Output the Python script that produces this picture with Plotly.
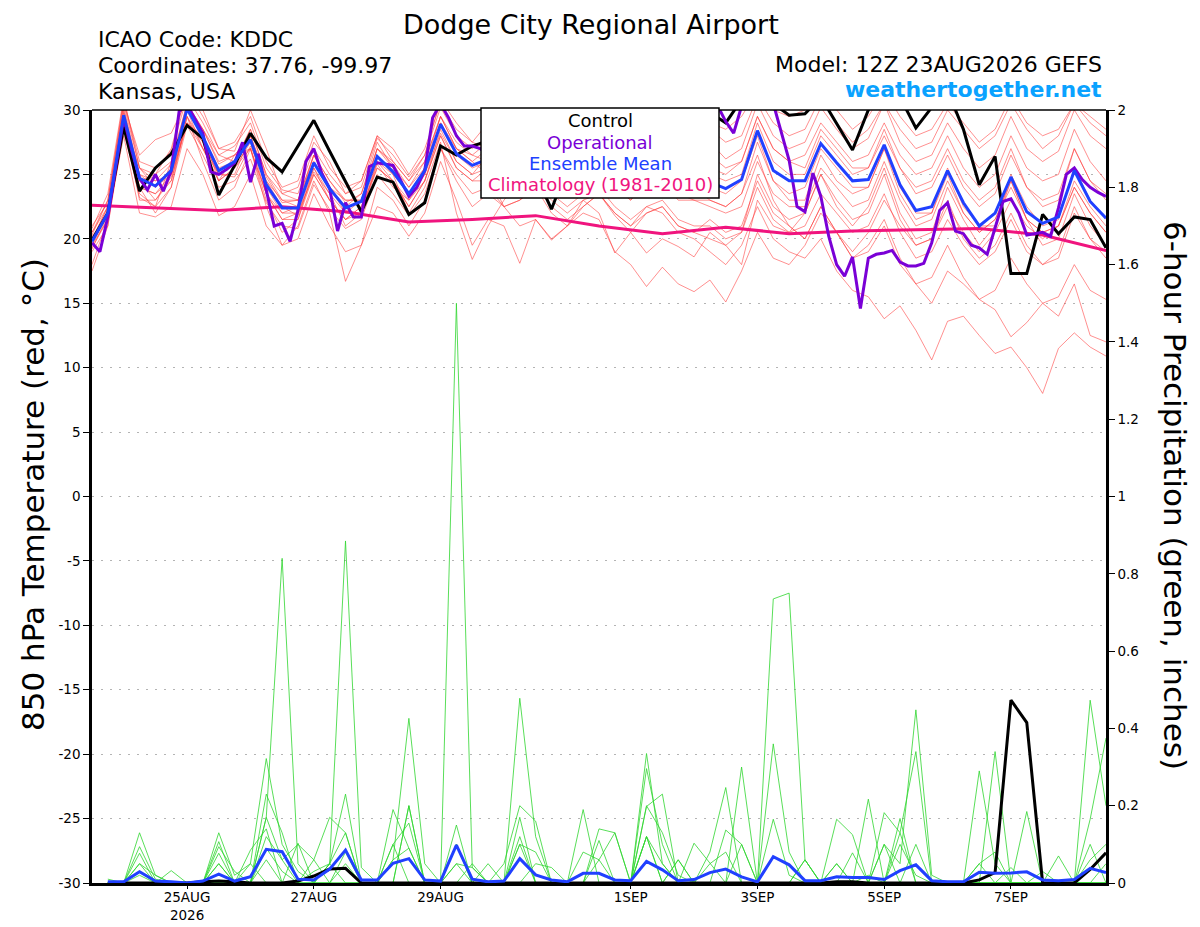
import pandas as pd
import plotly.graph_objects as go

# GEFS run 12Z 23AUG2026, 6-hourly steps out to 384 h (operational 3-hourly)
t6 = pd.date_range('2026-08-23 12:00', periods=65, freq='6h')
t3 = pd.date_range('2026-08-23 12:00', periods=129, freq='3h')
t24 = pd.date_range('2026-08-23 12:00', periods=17, freq='1D')

tick_dates = ['2026-08-25', '2026-08-27', '2026-08-29', '2026-09-01',
              '2026-09-03', '2026-09-05', '2026-09-07']
tick_text = ['25AUG<br>2026', '27AUG', '29AUG', '1SEP', '3SEP', '5SEP', '7SEP']
temp_ticks = [-30, -25, -20, -15, -10, -5, 0, 5, 10, 15, 20, 25, 30]
temp_tick_text = ['-30', '-25', '-20', '-15', '-10', '-5', '0', '5', '10', '15', '20', '25', '30']

# 850 hPa temperature (C) - ensemble members, rows of 13 steps
temp_m01 = [20.5, 23.0, 30.8, 26.0, 25.5, 26.8, 31.0, 29.0, 26.5, 27.2, 29.0, 25.5, 23.8,
            23.5, 27.0, 25.0, 23.5, 24.0, 27.8, 26.5, 24.8, 26.5, 30.2, 28.0, 27.0, 28.0,
            26.5, 27.5, 28.5, 26.8, 26.0, 27.2, 28.5, 27.0, 26.0, 27.8, 28.5, 26.5, 26.8,
            27.5, 26.2, 27.0, 30.5, 28.0, 27.0, 27.5, 30.2, 28.5, 27.0, 27.8, 30.5, 27.5,
            26.0, 26.5, 29.0, 27.0, 25.5, 26.5, 29.5, 27.0, 26.0, 26.8, 30.0, 28.0, 27.0]
temp_m02 = [19.0, 21.0, 28.5, 23.2, 22.5, 24.0, 28.8, 26.5, 24.0, 24.5, 26.2, 22.8, 21.0,
            20.8, 24.2, 22.3, 20.8, 21.5, 25.0, 23.5, 21.8, 23.5, 27.0, 25.0, 23.5, 24.0,
            22.5, 23.0, 24.0, 22.0, 21.0, 22.5, 23.5, 21.8, 20.5, 22.0, 22.5, 21.0, 20.5,
            20.0, 19.5, 20.5, 24.0, 21.5, 20.5, 21.0, 23.5, 22.0, 20.5, 21.0, 23.5, 20.5,
            18.5, 19.0, 21.5, 19.5, 18.0, 19.0, 21.5, 19.0, 18.0, 18.5, 22.0, 20.0, 18.5]
temp_m03 = [20.0, 22.5, 29.0, 24.0, 23.5, 25.0, 29.5, 27.0, 24.5, 25.5, 27.5, 23.5, 21.5,
            22.0, 25.5, 23.0, 21.5, 22.5, 26.0, 24.5, 22.5, 24.5, 28.0, 25.5, 24.5, 25.5,
            24.0, 24.5, 25.0, 23.5, 22.5, 23.5, 24.0, 22.5, 21.5, 22.5, 22.0, 20.5, 20.0,
            19.0, 18.0, 19.5, 22.5, 20.0, 19.0, 18.5, 20.0, 17.5, 16.0, 15.5, 13.8, 14.8,
            12.9, 10.6, 13.6, 14.0, 12.5, 11.1, 11.6, 10.0, 8.0, 11.5, 12.7, 11.6, 10.9]
temp_m04 = [19.2, 21.8, 29.2, 23.0, 23.0, 24.8, 29.0, 27.5, 25.0, 24.8, 27.2, 24.5, 22.5,
            21.8, 25.2, 23.5, 22.0, 22.0, 25.8, 24.0, 23.0, 25.0, 28.2, 26.0, 25.0, 25.5,
            24.5, 25.0, 26.0, 24.0, 23.5, 24.5, 25.5, 24.0, 23.0, 24.5, 25.0, 23.5, 23.0,
            23.0, 22.5, 23.5, 26.5, 23.0, 21.0, 20.0, 22.5, 20.5, 18.5, 19.0, 21.0, 18.0,
            16.5, 15.0, 17.5, 16.5, 15.3, 14.5, 12.4, 13.5, 15.0, 14.0, 16.5, 12.5, 12.0]
temp_m05 = [19.5, 21.5, 29.8, 25.0, 24.5, 25.8, 30.5, 28.5, 25.8, 26.5, 28.0, 24.8, 22.8,
            23.0, 26.5, 24.5, 22.8, 23.5, 27.0, 25.8, 24.0, 26.0, 29.5, 27.0, 26.0, 25.0,
            22.5, 21.0, 21.5, 20.0, 21.0, 22.0, 21.5, 19.0, 18.0, 16.3, 17.8, 16.5, 15.9,
            16.8, 15.1, 17.5, 20.5, 18.5, 18.0, 19.5, 22.0, 20.5, 19.0, 20.5, 23.0, 21.0,
            19.5, 20.0, 22.5, 20.5, 19.0, 20.5, 23.0, 21.0, 20.0, 21.0, 24.0, 22.0, 20.5]
temp_m06 = [20.8, 23.5, 31.0, 25.5, 25.0, 27.0, 31.5, 29.5, 27.0, 27.5, 29.5, 26.0, 24.0,
            24.5, 28.0, 25.5, 24.0, 24.5, 28.0, 27.0, 25.0, 27.0, 30.5, 28.5, 27.5, 29.0,
            27.5, 28.0, 29.5, 28.0, 27.5, 28.5, 30.0, 28.5, 27.5, 29.0, 30.0, 28.5, 28.0,
            29.0, 28.5, 29.5, 31.5, 30.0, 29.5, 30.0, 31.5, 30.0, 28.5, 29.5, 31.5, 29.5,
            28.0, 28.5, 30.5, 29.0, 27.5, 28.5, 31.0, 29.0, 28.0, 28.5, 30.5, 29.5, 28.5]
temp_m07 = [18.0, 21.5, 28.0, 22.0, 21.7, 22.5, 27.0, 25.0, 21.8, 22.5, 25.0, 21.0, 19.5,
            20.0, 23.5, 21.0, 19.0, 19.5, 22.5, 22.0, 20.2, 22.0, 26.0, 23.0, 19.5, 21.5,
            21.0, 18.1, 21.5, 19.9, 21.0, 23.0, 22.0, 18.9, 20.5, 18.9, 20.0, 19.4, 18.6,
            20.5, 19.5, 18.0, 23.0, 21.0, 20.5, 22.0, 25.0, 22.5, 21.0, 22.5, 25.5, 22.0,
            20.0, 20.5, 24.0, 21.5, 19.5, 21.0, 24.5, 21.5, 19.5, 20.0, 23.5, 21.0, 19.5]
temp_m08 = [21.0, 22.8, 30.5, 26.5, 27.7, 28.2, 30.8, 30.0, 27.0, 26.8, 30.0, 27.0, 23.5,
            24.0, 27.5, 26.0, 23.5, 24.5, 28.0, 26.0, 24.5, 26.5, 30.8, 29.0, 27.5, 27.0,
            26.0, 26.5, 27.5, 26.0, 25.5, 26.5, 27.5, 26.5, 25.5, 27.0, 27.5, 26.0, 26.0,
            25.5, 25.0, 26.0, 29.5, 27.0, 26.0, 25.5, 28.5, 27.0, 25.5, 25.5, 28.0, 25.5,
            23.5, 24.0, 26.5, 24.0, 22.5, 23.5, 26.5, 24.0, 22.5, 23.0, 27.0, 24.5, 23.0]
temp_m09 = [19.5, 22.0, 29.0, 24.5, 23.0, 24.5, 29.5, 27.5, 25.0, 26.0, 27.0, 23.5, 21.5,
            21.5, 25.0, 23.0, 21.5, 22.0, 25.5, 24.5, 23.0, 24.5, 28.5, 26.0, 25.0, 26.5,
            25.5, 26.5, 27.0, 25.5, 25.0, 26.0, 27.5, 26.0, 25.0, 26.5, 27.0, 25.0, 24.5,
            24.0, 23.5, 24.5, 28.0, 24.5, 23.5, 24.0, 27.0, 25.5, 24.0, 24.0, 27.0, 23.5,
            21.5, 22.0, 25.0, 22.0, 20.5, 21.5, 24.5, 21.5, 20.5, 21.0, 24.5, 22.5, 21.0]
temp_m10 = [20.2, 21.8, 29.5, 23.5, 22.5, 26.0, 30.0, 27.0, 25.0, 25.0, 28.0, 24.0, 22.0,
            22.5, 26.0, 24.0, 23.0, 23.0, 26.5, 25.0, 23.5, 25.5, 29.0, 26.5, 25.5, 26.0,
            25.0, 25.5, 26.0, 24.5, 24.0, 25.0, 26.0, 24.5, 23.5, 25.0, 25.5, 24.0, 24.0,
            23.0, 22.5, 23.5, 27.5, 24.5, 23.0, 23.0, 26.5, 24.5, 23.5, 24.0, 27.0, 24.0,
            22.0, 22.0, 25.5, 22.5, 21.0, 21.0, 25.0, 22.5, 21.0, 21.5, 25.5, 23.0, 21.5]
temp_m11 = [19.8, 22.5, 29.0, 25.5, 24.5, 25.0, 29.0, 28.0, 24.5, 26.5, 27.0, 23.0, 20.5,
            21.5, 25.5, 23.5, 21.0, 22.0, 26.0, 25.0, 22.0, 24.0, 27.5, 22.0, 18.4, 21.0,
            23.0, 24.5, 25.5, 24.0, 23.5, 24.5, 25.0, 24.0, 23.0, 24.5, 24.5, 23.0, 23.0,
            22.5, 22.0, 22.5, 26.0, 23.5, 22.5, 22.5, 25.5, 24.0, 22.5, 23.0, 26.0, 23.0,
            21.0, 21.5, 24.5, 22.0, 20.5, 21.5, 24.0, 21.5, 20.5, 21.0, 24.0, 22.0, 20.5]
temp_m12 = [20.0, 22.2, 30.2, 25.0, 24.0, 25.5, 30.2, 28.0, 25.5, 26.0, 28.5, 25.0, 23.0,
            22.5, 26.5, 24.0, 22.0, 23.0, 27.0, 25.5, 24.0, 25.5, 29.5, 27.5, 26.5, 27.5,
            26.5, 27.0, 28.0, 27.0, 26.5, 27.5, 29.0, 27.5, 27.0, 28.5, 29.5, 27.5, 27.5,
            28.5, 27.5, 28.0, 31.0, 29.0, 28.0, 28.5, 31.0, 29.0, 27.5, 28.5, 30.5, 28.5,
            27.0, 27.5, 30.0, 28.5, 27.0, 28.0, 30.5, 28.5, 27.0, 28.0, 30.5, 29.0, 28.0]
temp_m13 = [19.3, 21.5, 28.5, 24.0, 23.5, 24.5, 29.0, 27.0, 24.5, 25.5, 27.0, 23.5, 22.0,
            22.0, 25.0, 23.0, 21.5, 22.5, 25.5, 24.5, 22.5, 24.5, 28.0, 25.5, 24.5, 24.5,
            23.5, 24.0, 24.5, 23.0, 22.0, 23.0, 23.5, 22.0, 21.0, 22.0, 22.5, 21.0, 20.5,
            21.5, 20.5, 21.0, 24.5, 22.0, 21.0, 20.0, 22.5, 20.5, 18.5, 19.5, 21.5, 18.5,
            16.5, 17.0, 19.5, 17.0, 15.3, 16.0, 18.5, 16.5, 15.0, 15.5, 18.0, 16.0, 15.3]
temp_m14 = [20.5, 22.5, 30.0, 24.5, 25.0, 26.0, 30.5, 28.5, 26.0, 26.5, 28.0, 24.5, 23.0,
            23.0, 26.5, 24.5, 23.0, 23.0, 27.0, 26.0, 24.5, 26.0, 29.5, 27.0, 26.5, 26.0,
            25.0, 26.0, 27.0, 25.5, 25.0, 25.5, 26.5, 25.5, 24.5, 26.0, 26.5, 25.0, 24.5,
            25.0, 24.5, 25.0, 29.0, 26.0, 25.0, 25.0, 28.0, 26.5, 25.0, 25.5, 28.5, 25.5,
            24.0, 24.5, 27.0, 24.5, 23.0, 24.0, 27.0, 24.0, 23.0, 23.5, 27.0, 24.5, 23.5]
temp_m15 = [17.5, 21.0, 29.0, 24.0, 22.0, 24.0, 29.5, 26.0, 23.0, 24.0, 27.0, 22.5, 19.5,
            21.0, 24.5, 22.0, 16.7, 19.5, 24.0, 23.0, 21.0, 23.0, 27.0, 24.5, 22.5, 23.5,
            22.5, 23.0, 24.0, 22.5, 21.5, 22.5, 23.5, 22.0, 21.0, 22.5, 23.0, 21.5, 21.0,
            21.0, 20.0, 20.5, 25.0, 22.5, 21.5, 22.0, 25.0, 23.0, 21.5, 22.0, 25.0, 21.5,
            19.5, 20.0, 23.0, 20.0, 18.5, 19.5, 22.0, 19.5, 18.0, 19.0, 22.5, 20.0, 19.0]
temp_m16 = [20.3, 23.0, 30.5, 25.5, 24.0, 25.0, 30.0, 28.5, 26.5, 26.0, 28.5, 25.0, 23.5,
            23.0, 26.0, 24.0, 22.5, 23.5, 27.5, 25.5, 23.5, 25.0, 29.0, 27.0, 26.0, 27.0,
            26.0, 26.5, 27.5, 26.5, 26.0, 27.0, 28.0, 26.5, 25.5, 27.0, 27.5, 26.0, 25.5,
            26.5, 25.5, 26.0, 29.5, 27.0, 26.0, 26.5, 29.0, 27.5, 26.0, 26.5, 29.0, 26.5,
            25.0, 25.5, 28.0, 25.5, 24.0, 25.0, 28.0, 25.5, 24.5, 25.0, 28.5, 26.0, 24.5]

temp_control = [19.9, 22.0, 28.7, 23.7, 25.5, 26.6, 28.8, 27.8, 23.4, 25.7, 28.2, 26.3, 25.2,
                27.2, 29.2, 26.8, 24.5, 22.1, 24.8, 24.4, 21.9, 22.8, 27.2, 26.5, 27.2, 27.6,
                26.5, 25.8, 25.0, 22.3, 25.5, 26.8, 27.5, 26.0, 27.2, 28.4, 26.9, 28.0, 28.5,
                29.8, 29.0, 30.8, 31.5, 30.5, 29.6, 29.7, 31.0, 29.0, 26.9, 30.0, 31.5, 31.0,
                28.6, 30.2, 31.5, 28.5, 24.2, 26.4, 17.3, 17.3, 21.9, 20.4, 21.7, 21.5, 19.3]
temp_mean = [19.8, 22.0, 29.6, 24.7, 24.1, 25.3, 30.1, 27.9, 25.3, 26.0, 27.7, 24.2, 22.4,
             22.4, 25.9, 23.9, 22.4, 22.9, 26.4, 25.2, 23.5, 25.3, 28.9, 26.6, 25.7, 26.2,
             25.0, 25.8, 26.5, 25.0, 24.6, 25.5, 26.3, 25.0, 24.3, 25.6, 26.0, 24.8, 24.6,
             24.4, 23.9, 24.6, 28.4, 25.3, 24.5, 24.5, 27.4, 25.9, 24.5, 24.6, 27.3, 24.2,
             22.2, 22.5, 25.3, 22.8, 21.0, 22.0, 24.8, 22.1, 21.2, 21.7, 25.3, 22.9, 21.6]
# operational, 3-hourly (rows of 16)
temp_oper = [19.7, 19.0, 21.7, 25.5, 29.4, 26.9, 24.7, 23.8, 25.0, 23.7, 25.3, 29.9, 30.4, 29.3, 28.2, 25.2,
             25.0, 25.4, 25.9, 27.5, 24.4, 26.6, 23.8, 21.0, 21.2, 19.8, 22.2, 26.0, 27.0, 25.1, 23.9, 20.6,
             22.8, 21.7, 21.7, 25.6, 25.9, 25.8, 25.7, 24.5, 23.3, 24.0, 25.3, 29.4, 30.5, 29.4, 28.0, 27.2,
             27.2, 27.0, 26.5, 27.5, 26.8, 25.9, 26.5, 27.8, 28.4, 27.0, 26.2, 25.8, 26.5, 27.2, 26.0, 25.4,
             26.0, 27.0, 28.0, 27.3, 26.5, 25.5, 26.2, 27.5, 28.3, 27.5, 26.8, 27.4, 28.5, 29.2, 28.8, 30.3,
             29.1, 28.2, 30.3, 31.0, 31.5, 31.0, 30.5, 28.3, 26.1, 22.5, 22.1, 25.1, 23.3, 20.2, 18.0, 17.1,
             18.6, 14.6, 18.5, 18.8, 18.9, 19.1, 18.2, 17.9, 17.9, 18.1, 19.7, 22.2, 22.8, 20.6, 20.4, 19.5,
             19.3, 18.8, 20.8, 22.9, 23.1, 22.0, 20.3, 20.4, 20.5, 20.2, 22.4, 25.0, 25.5, 24.6, 24.0, 23.6,
             23.3]
# climatology 1981-2010, daily
temp_clim = [22.6, 22.4, 22.2, 22.5, 22.1, 21.3, 21.5, 21.8, 21.0,
             20.4, 20.9, 20.4, 20.6, 20.7, 20.8, 20.3, 19.1]

# 6-hour precipitation (inches); first step has no accumulation
prcp_g01 = [None, 0, 0, 0.13, 0.02, 0, 0, 0, 0.05, 0, 0, 0.17, 0.84,
            0.05, 0, 0, 0.08, 0, 0, 0.06, 0.426, 0.05, 0, 0, 0.05, 0,
            0, 0.1, 0.08, 0, 0, 0, 0, 0, 0, 0.2, 0.13, 0.02, 0,
            0.05, 0.08, 0, 0, 0.165, 0.02, 0, 0, 0, 0, 0.02, 0, 0,
            0, 0, 0, 0, 0.29, 0.05, 0, 0, 0, 0, 0, 0.06, 0.1]
prcp_g02 = [None, 0, 0, 0.094, 0.01, 0, 0, 0, 0.13, 0.02, 0.05, 0.322, 0.1,
            0.03, 0, 0.05, 0.885, 0.04, 0, 0, 0.2, 0, 0, 0.1, 0, 0,
            0, 0.478, 0.12, 0, 0, 0, 0.14, 0.13, 0, 0.12, 0.05, 0, 0,
            0, 0, 0, 0, 0.36, 0.08, 0, 0, 0, 0, 0, 0.1, 0.05,
            0.448, 0.02, 0, 0, 0, 0, 0, 0, 0, 0, 0, 0, 0]
prcp_g03 = [None, 0, 0, 0.077, 0, 0.032, 0, 0, 0.107, 0, 0, 0.23, 0.13,
            0, 0.03, 0.05, 0.13, 0, 0, 0.19, 0.09, 0, 0, 1.5, 0.04, 0,
            0, 0.17, 0, 0, 0, 0.08, 0.06, 0, 0, 0.335, 0.05, 0, 0,
            0, 0.137, 0.1, 0, 0, 0, 0.06, 0, 0.05, 0, 0.217, 0, 0,
            0.1, 0, 0, 0, 0, 0, 0.04, 0, 0, 0, 0, 0.473, 0.2]
prcp_g04 = [None, 0, 0, 0.05, 0, 0, 0, 0, 0.094, 0.03, 0, 0.17, 0.06,
            0.1, 0.06, 0.17, 0.13, 0, 0, 0.1, 0.155, 0, 0, 0.15, 0, 0,
            0.05, 0.2, 0.16, 0, 0, 0, 0.11, 0, 0, 0.296, 0.1, 0, 0.103,
            0.05, 0, 0.3, 0, 0.735, 0.75, 0.06, 0, 0, 0.078, 0, 0, 0.13,
            0.34, 0, 0, 0, 0.05, 0.08, 0, 0.185, 0, 0, 0, 0.165, 0.375]
prcp_g05 = [None, 0, 0, 0.03, 0, 0, 0, 0, 0.077, 0, 0.085, 0.14, 0,
            0.103, 0, 0.05, 0.23, 0, 0, 0, 0.2, 0, 0, 0.1, 0, 0,
            0, 0.12, 0, 0, 0, 0.19, 0, 0, 0, 0.12, 0, 0.06, 0,
            0.08, 0.247, 0, 0, 0, 0, 0, 0, 0.165, 0.125, 0, 0, 0.167,
            0, 0, 0, 0, 0, 0.34, 0, 0, 0, 0, 0, 0, 0]
prcp_g06 = [None, 0.01, 0, 0.02, 0, 0, 0, 0, 0.05, 0, 0, 0.12, 0.06,
            0, 0, 0, 0.05, 0, 0, 0.06, 0.09, 0, 0, 0.05, 0, 0,
            0, 0.1, 0, 0, 0, 0, 0.06, 0.13, 0, 0.198, 0.23, 0, 0,
            0, 0, 0, 0, 0, 0, 0, 0, 0, 0, 0, 0.182, 0.13,
            0, 0, 0, 0, 0, 0, 0, 0, 0, 0, 0, 0, 0.05]
prcp_g07 = [None, 0, 0, 0, 0, 0, 0, 0, 0, 0, 0, 0.09, 0.03,
            0, 0, 0, 0, 0, 0, 0, 0, 0, 0, 0.05, 0.04, 0,
            0, 0, 0, 0, 0, 0, 0, 0, 0, 0.12, 0, 0, 0,
            0, 0, 0, 0, 0, 0, 0, 0, 0, 0, 0, 0.1, 0,
            0, 0, 0, 0, 0, 0, 0, 0, 0, 0.07, 0, 0, 0]
prcp_g08 = [None, 0, 0, 0.05, 0.02, 0, 0, 0, 0, 0, 0.05, 0, 0,
            0, 0, 0.05, 0, 0, 0, 0.1, 0, 0, 0, 0, 0, 0.05,
            0, 0, 0.05, 0.04, 0, 0, 0, 0, 0, 0, 0, 0.06, 0,
            0, 0, 0.1, 0, 0, 0, 0, 0, 0.05, 0, 0, 0, 0.1,
            0.02, 0, 0, 0, 0, 0, 0, 0, 0.03, 0, 0, 0, 0]
prcp_g09 = [None, 0, 0, 0, 0, 0, 0, 0, 0, 0, 0, 0.06, 0,
            0, 0.06, 0, 0, 0, 0, 0, 0, 0, 0, 0, 0, 0,
            0, 0, 0, 0, 0, 0, 0, 0, 0, 0, 0, 0, 0,
            0, 0, 0, 0, 0, 0, 0.06, 0, 0, 0, 0, 0, 0,
            0, 0, 0, 0, 0.05, 0, 0, 0, 0, 0, 0, 0.1, 0]

prcp_control = [None, 0, 0, 0, 0, 0, 0, 0.003, 0.005, 0.003, 0, 0, 0,
                0.005, 0.018, 0.036, 0.038, 0, 0, 0, 0, 0, 0, 0, 0, 0,
                0, 0, 0, 0, 0, 0, 0, 0, 0, 0, 0, 0, 0,
                0, 0, 0, 0, 0, 0, 0, 0, 0.003, 0.003, 0, 0, 0,
                0, 0, 0, 0, 0.008, 0.027, 0.473, 0.415, 0, 0, 0, 0.035, 0.078]
prcp_mean = [None, 0.003, 0.003, 0.029, 0.005, 0.003, 0, 0.005, 0.023, 0.005, 0.016, 0.087, 0.081,
             0.01, 0.008, 0.036, 0.085, 0.008, 0.008, 0.051, 0.063, 0.008, 0.005, 0.098, 0.01, 0.003,
             0.005, 0.063, 0.021, 0.008, 0.003, 0.025, 0.025, 0.008, 0.006, 0.056, 0.034, 0.006, 0.009,
             0.027, 0.036, 0.016, 0.003, 0.068, 0.047, 0.006, 0.006, 0.016, 0.014, 0.014, 0.009, 0.032,
             0.047, 0.006, 0.003, 0.003, 0.028, 0.025, 0.026, 0.029, 0.008, 0.006, 0.009, 0.038, 0.027]

temp_members = [temp_m01, temp_m02, temp_m03, temp_m04, temp_m05, temp_m06, temp_m07, temp_m08,
                temp_m09, temp_m10, temp_m11, temp_m12, temp_m13, temp_m14, temp_m15, temp_m16]
prcp_members = [prcp_g01, prcp_g02, prcp_g03, prcp_g04, prcp_g05, prcp_g06, prcp_g07, prcp_g08, prcp_g09]

for s in temp_members + prcp_members + [temp_control, temp_mean, prcp_control, prcp_mean]:
    assert len(s) == 65, len(s)
assert len(temp_oper) == 129

FONT = 'DejaVu Sans, Liberation Sans, sans-serif'
C_CTRL = '#000000'
C_OPER = '#7a00d6'
C_MEAN = '#2040ff'
C_CLIM = '#f0147e'

# page pixels (page body has an 8px margin) -> paper coords; plot area x 92..1106, y 110..883
def px(x):
    return (x - 92) / 1014.0

def py(y):
    return (883 - y) / 773.0

fig = go.Figure()

for m in temp_members:
    fig.add_trace(go.Scatter(x=t6, y=m, mode='lines', yaxis='y',
                             line=dict(color='rgba(255,55,55,0.7)', width=0.8)))
for g in prcp_members:
    fig.add_trace(go.Scatter(x=t6, y=g, mode='lines', yaxis='y2',
                             line=dict(color='#2fd62f', width=0.8)))

fig.add_trace(go.Scatter(x=t24, y=temp_clim, mode='lines', line=dict(color=C_CLIM, width=3)))
fig.add_trace(go.Scatter(x=t6, y=temp_control, mode='lines', line=dict(color=C_CTRL, width=3)))
fig.add_trace(go.Scatter(x=t3, y=temp_oper, mode='lines', line=dict(color=C_OPER, width=3)))
fig.add_trace(go.Scatter(x=t6, y=temp_mean, mode='lines', line=dict(color=C_MEAN, width=3)))
fig.add_trace(go.Scatter(x=t6, y=prcp_control, mode='lines', yaxis='y2',
                         line=dict(color=C_CTRL, width=3)))
fig.add_trace(go.Scatter(x=t6, y=prcp_mean, mode='lines', yaxis='y2',
                         line=dict(color=C_MEAN, width=3)))

fig.update_layout(
    width=1192, height=919,
    margin=dict(l=84, r=94, t=102, b=44, autoexpand=False),
    paper_bgcolor='white', plot_bgcolor='white',
    showlegend=False, hovermode=False,
    font=dict(family=FONT, color='black'),
    xaxis=dict(range=[t6[0], t6[-1]], tickvals=tick_dates, ticktext=tick_text,
               ticks='outside', ticklen=3, tickwidth=1, tickcolor='black',
               ticklabelstandoff=-3,
               showline=True, linewidth=3, linecolor='black',
               showgrid=False, zeroline=False, tickfont=dict(size=13.5)),
    yaxis=dict(range=[-30, 30], tickvals=temp_ticks, ticktext=temp_tick_text,
               ticks='outside', ticklen=6, tickwidth=1, tickcolor='black',
               showline=True, linewidth=2.5, linecolor='black',
               showgrid=True, gridcolor='#b4b4b4', gridwidth=1, griddash='2px,7px',
               zeroline=False, tickfont=dict(size=13.5)),
    yaxis2=dict(range=[0, 2], tick0=0, dtick=0.2, overlaying='y', side='right', anchor='x',
                ticks='outside', ticklen=6, tickwidth=1, tickcolor='black',
                showline=True, linewidth=2.5, linecolor='black',
                showgrid=False, zeroline=False, tickfont=dict(size=13.5)),
)

# top frame line and legend box
fig.add_shape(type='line', xref='paper', yref='paper', x0=0, x1=1, y0=1, y1=1,
              line=dict(color='black', width=1.5), layer='above')
fig.add_shape(type='rect', xref='paper', yref='paper',
              x0=px(481), x1=px(719), y0=py(198), y1=py(108),
              fillcolor='white', line=dict(color='black', width=1.5), layer='above')

legend_rows = [('Control', C_CTRL, 121), ('Operational', C_OPER, 142),
               ('Ensemble Mean', C_MEAN, 163), ('Climatology (1981-2010)', C_CLIM, 185)]
for txt, col, ypix in legend_rows:
    fig.add_annotation(text=txt, xref='paper', yref='paper', x=px(600), y=py(ypix),
                       showarrow=False, xanchor='center', yanchor='middle',
                       font=dict(size=18, color=col))

# headings
fig.add_annotation(text='Dodge City Regional Airport', xref='paper', yref='paper',
                   x=px(591), y=py(24), showarrow=False, xanchor='center', yanchor='middle',
                   font=dict(size=27))
for txt, ypix in [('ICAO Code: KDDC', 40), ('Coordinates: 37.76, -99.97', 66), ('Kansas, USA', 92)]:
    fig.add_annotation(text=txt, xref='paper', yref='paper', x=px(96), y=py(ypix),
                       showarrow=False, xanchor='left', yanchor='middle', font=dict(size=22))
fig.add_annotation(text='Model: 12Z 23AUG2026 GEFS', xref='paper', yref='paper',
                   x=px(1104), y=py(64), showarrow=False, xanchor='right', yanchor='middle',
                   font=dict(size=22))
fig.add_annotation(text='<b>weathertogether.net</b>', xref='paper', yref='paper',
                   x=px(1104), y=py(89), showarrow=False, xanchor='right', yanchor='middle',
                   font=dict(size=22, color='#0aa2ff'))

# axis titles
fig.add_annotation(text='850 hPa Temperature (red, °C)', xref='paper', yref='paper',
                   x=px(33), y=py(495), textangle=-90, showarrow=False,
                   xanchor='center', yanchor='middle', font=dict(size=31))
fig.add_annotation(text='6-hour Precipitation (green, inches)', xref='paper', yref='paper',
                   x=px(1175), y=py(495), textangle=90, showarrow=False,
                   xanchor='center', yanchor='middle', font=dict(size=31))

fig.write_html('out.html')
